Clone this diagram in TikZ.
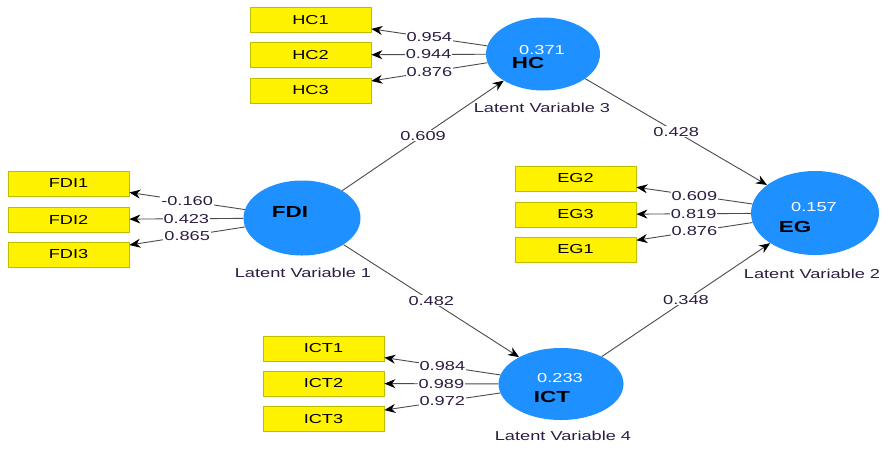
\documentclass[tikz,border=0pt]{standalone}
\usepackage{fontspec}
\setmainfont{Liberation Sans}[FakeStretch=1.4]
\usetikzlibrary{shapes.geometric,arrows.meta}
\definecolor{lvblue}{RGB}{30,144,255}
\definecolor{boxedge}{RGB}{190,190,0}
\definecolor{txt}{RGB}{45,30,65}
\definecolor{lin}{RGB}{75,75,75}
\begin{document}
\begin{tikzpicture}[x=1pt,y=-1pt,
  lv/.style={ellipse, fill=lvblue, draw=none, inner sep=0pt},
  ind/.style={rectangle, fill=yellow, draw=boxedge, line width=0.8pt,
    minimum width=121pt, minimum height=25pt, inner sep=0pt,
    font=\fontsize{13}{15}\selectfont, text=black},
  lbl/.style={fill=white, inner sep=1pt, font=\fontsize{13}{15}\selectfont, text=txt},
  val/.style={inner sep=0pt, font=\fontsize{13}{15}\selectfont, text=white},
  nm/.style={inner sep=0pt, font=\fontsize{16}{18}\selectfont\bfseries, text=black},
  lvtext/.style={inner sep=0pt, font=\fontsize{13}{15}\selectfont, text=txt},
  conn/.style={draw=lin, line width=0.9pt, -{Stealth[length=11pt,width=9pt,color=black]}}
]
\useasboundingbox (0,0) rectangle (885,448);
\fill[white] (0,0) rectangle (885,448);

% latent variables
\node[lv, minimum width=114pt, minimum height=73pt] (HC) at (543,54) {};
\node[lv, minimum width=117pt, minimum height=75pt] (FDI) at (302,218) {};
\node[lv, minimum width=128pt, minimum height=84pt] (EG) at (815,213) {};
\node[lv, minimum width=125pt, minimum height=72pt] (ICT) at (561,384) {};

\node[val] (HCv) at (542,50) {0.371};
\node[nm] (HCn) at (528,63) {HC};
\node[nm] (FDIn) at (290,212) {FDI};
\node[val] (EGv) at (814,207) {0.157};
\node[nm] (EGn) at (795,227) {EG};
\node[val] (ICTv) at (560,378) {0.233};
\node[nm] (ICTn) at (552,397) {ICT};

\node[lvtext] (L3) at (542,108) {Latent Variable 3};
\node[lvtext] (L1) at (303,273) {Latent Variable 1};
\node[lvtext] (L2) at (812,274) {Latent Variable 2};
\node[lvtext] (L4) at (563,436) {Latent Variable 4};

% indicators
\node[ind] (HC1) at (310.5,20) {HC1};
\node[ind] (HC2) at (310.5,55) {HC2};
\node[ind] (HC3) at (310.5,90.5) {HC3};
\node[ind] (FDI1) at (68.5,183.5) {FDI1};
\node[ind] (FDI2) at (68.5,219.5) {FDI2};
\node[ind] (FDI3) at (68.5,254.5) {FDI3};
\node[ind] (EG2) at (575.5,178.5) {EG2};
\node[ind] (EG3) at (575.5,214.5) {EG3};
\node[ind] (EG1) at (575.5,249.5) {EG1};
\node[ind] (ICT1) at (323.5,348.5) {ICT1};
\node[ind] (ICT2) at (323.5,383.5) {ICT2};
\node[ind] (ICT3) at (323.5,419) {ICT3};

% loadings
\draw[conn] (HC) -- node[lbl]{0.954} (HC1);
\draw[conn] (HC) -- node[lbl]{0.944} (HC2);
\draw[conn] (HC) -- node[lbl]{0.876} (HC3);
\draw[conn] (FDI) -- node[lbl]{-0.160} (FDI1);
\draw[conn] (FDI) -- node[lbl]{0.423} (FDI2);
\draw[conn] (FDI) -- node[lbl]{0.865} (FDI3);
\draw[conn] (EG) -- node[lbl]{0.609} (EG2);
\draw[conn] (EG) -- node[lbl]{0.819} (EG3);
\draw[conn] (EG) -- node[lbl]{0.876} (EG1);
\draw[conn] (ICT) -- node[lbl]{0.984} (ICT1);
\draw[conn] (ICT) -- node[lbl]{0.989} (ICT2);
\draw[conn] (ICT) -- node[lbl]{0.972} (ICT3);

% structural paths
\draw[conn] (FDI) -- node[lbl]{0.609} (HC);
\draw[conn] (HC) -- node[lbl]{0.428} (EG);
\draw[conn] (FDI) -- node[lbl]{0.482} (ICT);
\draw[conn] (ICT) -- node[lbl]{0.348} (EG);
\end{tikzpicture}
\end{document}
